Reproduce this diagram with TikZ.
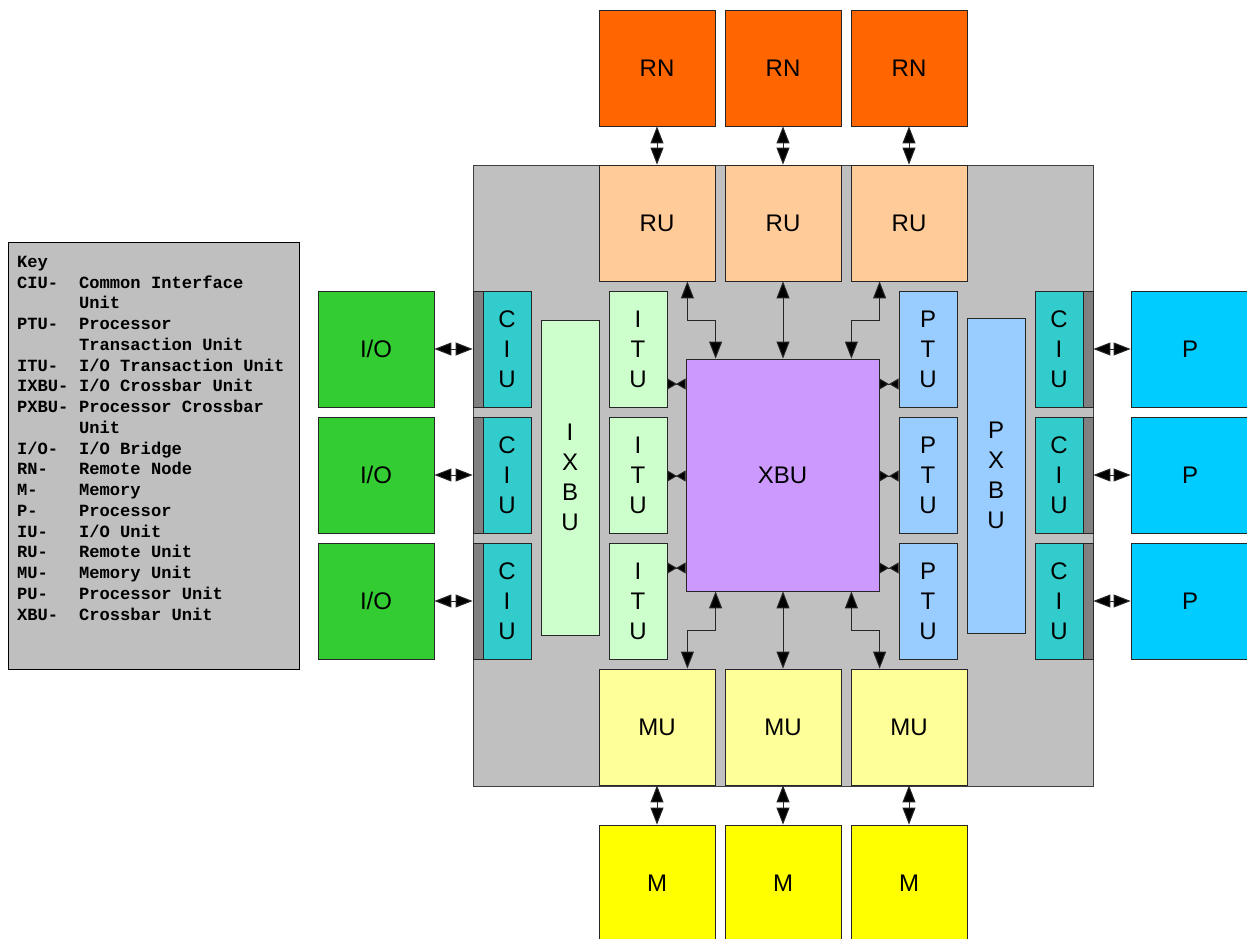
\documentclass[tikz,border=0pt]{standalone}
\usepackage{fontspec}
\setmainfont{Liberation Sans}
\newfontfamily\keyfont{Liberation Mono}
\usetikzlibrary{arrows.meta}
\definecolor{cRN}{HTML}{FF6600}
\definecolor{cRU}{HTML}{FFCC99}
\definecolor{cMU}{HTML}{FFFF99}
\definecolor{cM}{HTML}{FFFF00}
\definecolor{cIO}{HTML}{33CC33}
\definecolor{cCIU}{HTML}{33CCCC}
\definecolor{cStrip}{HTML}{808080}
\definecolor{cP}{HTML}{00CCFF}
\definecolor{cITU}{HTML}{CCFFCC}
\definecolor{cXBU}{HTML}{CC99FF}
\definecolor{cPTU}{HTML}{99CCFF}
\definecolor{cChip}{HTML}{C0C0C0}
\definecolor{cKey}{HTML}{BFBFBF}
\newcommand\keyrow[2]{\makebox[62pt][l]{#1}#2}
\tikzset{
  box/.style={draw=black!85, line width=0.8pt, inner sep=0pt, align=center,
    font=\fontsize{24}{30}\selectfont},
  sq/.style={box, minimum width=116pt, minimum height=116pt},
  tall/.style={box, minimum width=58pt, minimum height=116pt},
  ciu/.style={box, fill=cCIU, minimum width=48pt, minimum height=116pt},
  strip/.style={draw=black!85, line width=0.8pt, fill=cStrip, inner sep=0pt, minimum width=10pt, minimum height=116pt},
  conn/.style={draw=black!85, line width=1pt},
  dbl/.style={conn, {Triangle[length=17pt,width=13pt,fill=black]}-{Triangle[length=17pt,width=13pt,fill=black]}},
  sdbl/.style={conn, {Triangle[reversed,length=9.5pt,width=11pt,fill=black]}-{Triangle[reversed,length=9.5pt,width=11pt,fill=black]}},
}
\begin{document}
\begin{tikzpicture}[x=1pt,y=-1pt]
\useasboundingbox (0,0) rectangle (1247,939);
% key
\node[draw=black, line width=0.8pt, fill=cKey, minimum width=291pt, minimum height=427pt, inner sep=0pt] (key) at (153.5,455.5) {};
\node[anchor=north west, align=left, inner sep=0pt, font=\keyfont\bfseries\fontsize{17.1}{20.75}\selectfont] (keytext) at (17,256)
{Key\\
\keyrow{CIU-}{Common Interface}\\
\keyrow{}{Unit}\\
\keyrow{PTU-}{Processor}\\
\keyrow{}{Transaction Unit}\\
\keyrow{ITU-}{I/O Transaction Unit}\\
\keyrow{IXBU-}{I/O Crossbar Unit}\\
\keyrow{PXBU-}{Processor Crossbar}\\
\keyrow{}{Unit}\\
\keyrow{I/O-}{I/O Bridge}\\
\keyrow{RN-}{Remote Node}\\
\keyrow{M-}{Memory}\\
\keyrow{P-}{Processor}\\
\keyrow{IU-}{I/O Unit}\\
\keyrow{RU-}{Remote Unit}\\
\keyrow{MU-}{Memory Unit}\\
\keyrow{PU-}{Processor Unit}\\
\keyrow{XBU-}{Crossbar Unit}};
% chip
\node[draw=black!75, line width=0.8pt, fill=cChip, minimum width=620pt, minimum height=621pt, inner sep=0pt] (chip) at (783,475.5) {};
% top / bottom rows
\node[sq, fill=cRN] (rn1) at (657,68) {RN};
\node[sq, fill=cRN] (rn2) at (783,68) {RN};
\node[sq, fill=cRN] (rn3) at (909,68) {RN};
\node[sq, fill=cRU] (ru1) at (657,223) {RU};
\node[sq, fill=cRU] (ru2) at (783,223) {RU};
\node[sq, fill=cRU] (ru3) at (909,223) {RU};
\node[sq, fill=cMU] (mu1) at (657,727) {MU};
\node[sq, fill=cMU] (mu2) at (783,727) {MU};
\node[sq, fill=cMU] (mu3) at (909,727) {MU};
\node[sq, fill=cM] (m1) at (657,883) {M};
\node[sq, fill=cM] (m2) at (783,883) {M};
\node[sq, fill=cM] (m3) at (909,883) {M};
% left side
\node[sq, fill=cIO] (io1) at (376,349) {I/O};
\node[sq, fill=cIO] (io2) at (376,475) {I/O};
\node[sq, fill=cIO] (io3) at (376,601) {I/O};
\node[strip] (sl1) at (478,349) {};
\node[strip] (sl2) at (478,475) {};
\node[strip] (sl3) at (478,601) {};
\node[ciu] (ciul1) at (507,349) {C\\I\\U};
\node[ciu] (ciul2) at (507,475) {C\\I\\U};
\node[ciu] (ciul3) at (507,601) {C\\I\\U};
\node[box, fill=cITU, minimum width=58pt, minimum height=315pt] (ixbu) at (570,477.5) {I\\X\\B\\U};
\node[tall, fill=cITU] (itu1) at (638,349) {I\\T\\U};
\node[tall, fill=cITU] (itu2) at (638,475) {I\\T\\U};
\node[tall, fill=cITU] (itu3) at (638,601) {I\\T\\U};
% center
\node[box, fill=cXBU, minimum width=193pt, minimum height=232pt] (xbu) at (782.5,475) {XBU};
% right side
\node[tall, fill=cPTU] (ptu1) at (928,349) {P\\T\\U};
\node[tall, fill=cPTU] (ptu2) at (928,475) {P\\T\\U};
\node[tall, fill=cPTU] (ptu3) at (928,601) {P\\T\\U};
\node[box, fill=cPTU, minimum width=58pt, minimum height=315pt] (pxbu) at (996,475.5) {P\\X\\B\\U};
\node[ciu] (ciur1) at (1059,349) {C\\I\\U};
\node[ciu] (ciur2) at (1059,475) {C\\I\\U};
\node[ciu] (ciur3) at (1059,601) {C\\I\\U};
\node[strip] (sr1) at (1088,349) {};
\node[strip] (sr2) at (1088,475) {};
\node[strip] (sr3) at (1088,601) {};
\node[box, fill=cP, minimum width=118pt, minimum height=116pt] (p1) at (1190,349) {P};
\node[box, fill=cP, minimum width=118pt, minimum height=116pt] (p2) at (1190,475) {P};
\node[box, fill=cP, minimum width=118pt, minimum height=116pt] (p3) at (1190,601) {P};
% RN-RU and MU-M
\foreach \i in {1,2,3}{
  \draw[dbl] (rn\i.south) -- (ru\i.north);
  \draw[dbl] (mu\i.south) -- (m\i.north);
  \draw[dbl] (io\i.east) -- (sl\i.west);
  \draw[dbl] (sr\i.east) -- (p\i.west);
}
% RU-XBU
\draw[dbl] ([xshift=-28pt]ru1.south east) -- ++(0,39) -| ([xshift=30pt]xbu.north west);
\draw[dbl] (ru2.south) -- (ru2.south |- xbu.north);
\draw[dbl] ([xshift=29pt]ru3.south west) -- ++(0,39) -| ([xshift=-28pt]xbu.north east);
% XBU-MU
\draw[dbl] ([xshift=30pt]xbu.south west) -- ++(0,39) -| ([xshift=-28pt]mu1.north east);
\draw[dbl] (mu2.north |- xbu.south) -- (mu2.north);
\draw[dbl] ([xshift=-28pt]xbu.south east) -- ++(0,39) -| ([xshift=29pt]mu3.north west);
% ITU/PTU - XBU
\coordinate (ia1) at ([yshift=-35pt]itu1.east);
\coordinate (ia2) at ([yshift=-1pt]itu2.east);
\coordinate (ia3) at ([yshift=33pt]itu3.east);
\coordinate (pa1) at ([yshift=-35pt]ptu1.west);
\coordinate (pa2) at ([yshift=-1pt]ptu2.west);
\coordinate (pa3) at ([yshift=33pt]ptu3.west);
\foreach \i in {1,2,3}{
  \draw[sdbl] (ia\i) -- (ia\i -| xbu.west);
  \draw[sdbl] (pa\i -| xbu.east) -- (pa\i);
}
\end{tikzpicture}
\end{document}
